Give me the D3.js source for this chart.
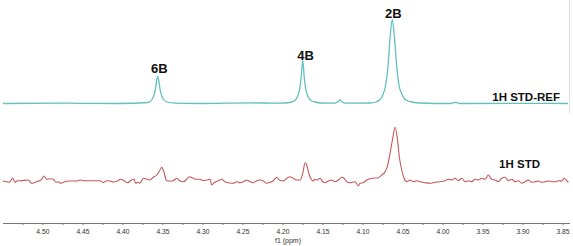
<!DOCTYPE html>
<html>
<head>
<meta charset="utf-8">
<script src="https://cdn.jsdelivr.net/npm/d3@7"></script>
<style>
  body { margin: 0; background: #fff; }
  svg { display: block; }
</style>
</head>
<body>
<div id="chart-area"></div>
<script>
const WIDTH = 573
const HEIGHT = 246

// 1H STD-REF trace (ppm, intensity)
const refPpm = [4.5493, 4.4781, 4.4031, 4.3681, 4.3631, 4.3594, 4.3560, 4.3525, 4.3487, 4.3443, 4.3344,
  4.3031, 4.2406, 4.2031, 4.1906, 4.1856, 4.1818, 4.1787, 4.1768, 4.1747, 4.1727, 4.1706, 4.1675,
  4.1643, 4.1594, 4.1506, 4.1343, 4.1306, 4.1281, 4.1256, 4.1206, 4.0906, 4.0831, 4.0781, 4.0744,
  4.0712, 4.0681, 4.0656, 4.0627, 4.0600, 4.0572, 4.0543, 4.0510, 4.0481, 4.0443, 4.0381, 4.0281,
  3.9906, 3.9831, 3.9781, 3.9031, 3.8431]
const refInt = [0, 0.3, 0, 1, 4, 12, 27, 12, 4, 1.5, 0.3,
  0, 0.7, 0.3, 1, 2.5, 6, 14, 25, 43, 25, 13, 6,
  3, 1.5, 0.5, 0.3, 2, 3.5, 1.5, 0.3, 0.5, 1.5, 4, 9,
  18, 37, 65, 84, 65, 37, 18, 10, 5, 3, 1.5, 0.5,
  0, 1.2, 0, 0.2, 0]

// 1H STD trace (ppm, intensity)
const stdPpm = [4.5497, 4.5447, 4.5415, 4.5372, 4.5343, 4.5315, 4.5281, 4.5177, 4.5135, 4.5093,
  4.5040, 4.5010, 4.4981, 4.4947, 4.4906, 4.4865, 4.4831, 4.4802, 4.4772, 4.4740,
  4.4677, 4.4572, 4.4531, 4.4490, 4.4281, 4.4240, 4.4197, 4.4156, 4.4115, 4.4065,
  4.4022, 4.3981, 4.3940, 4.3885, 4.3856, 4.3835, 4.3802, 4.3781, 4.3740, 4.3697,
  4.3656, 4.3615, 4.3572, 4.3531, 4.3510, 4.3490, 4.3447, 4.3406, 4.3365, 4.3322,
  4.3281, 4.3240, 4.3197, 4.3165, 4.3115, 4.3072, 4.3031, 4.2990, 4.2947, 4.2906,
  4.2885, 4.2856, 4.2802, 4.2760, 4.2719, 4.2677, 4.2615, 4.2572, 4.2531, 4.2490,
  4.2447, 4.2406, 4.2365, 4.2322, 4.2281, 4.2240, 4.2197, 4.2156, 4.2115, 4.2072,
  4.2040, 4.1990, 4.1947, 4.1906, 4.1865, 4.1822, 4.1781, 4.1747, 4.1718, 4.1697,
  4.1665, 4.1635, 4.1615, 4.1594, 4.1565, 4.1531, 4.1497, 4.1468, 4.1427, 4.1385,
  4.1343, 4.1302, 4.1260, 4.1231, 4.1197, 4.1156, 4.1093, 4.1052, 4.1031, 4.0990,
  4.0947, 4.0885, 4.0802, 4.0760, 4.0718, 4.0690, 4.0656, 4.0622, 4.0593, 4.0565,
  4.0540, 4.0510, 4.0481, 4.0447, 4.0406, 4.0365, 4.0322, 4.0281, 4.0218, 4.0156,
  4.0093, 4.0031, 3.9968, 3.9927, 3.9885, 3.9843, 3.9802, 3.9760, 3.9718, 3.9677,
  3.9635, 3.9593, 3.9552, 3.9510, 3.9468, 3.9427, 3.9385, 3.9343, 3.9302, 3.9260,
  3.9218, 3.9177, 3.9135, 3.9093, 3.9052, 3.9010, 3.8968, 3.8927, 3.8885, 3.8843,
  3.8802, 3.8760, 3.8718, 3.8677, 3.8635, 3.8593, 3.8552, 3.8510, 3.8481, 3.8447, 3.8427]
const stdInt = [0, -0.7, -1.3, 2.7, -1.3, 0.3, 0.3, 1, -2.3, -1.3,
  0.3, 1.7, 5, 1.7, 2.3, 1.7, -1.3, -0.7, -2.3, -1.3,
  0, 0, 1, 0.3, 0.3, -1.7, 0.3, 0, -1, 0,
  1.7, 0.3, -1.7, 1, 2, -2.3, -1.3, -2.3, 2.7, 1.7,
  1, 3.7, 6, 11, 13.7, 11, 0.3, 0, 0.3, 2.7,
  0, -0.7, 1.7, 4.3, 2.7, 1.7, 1.7, 0.3, 1, 1.7,
  -4, -1.7, 0.3, 1.7, -0.7, -1.7, -2.3, -0.7, -1.7, -0.7,
  1, -0.7, -1.7, 0.3, 1, 0, -2.3, -1.3, 0.3, 3.7,
  1, 0, 2.7, 4.3, 2.7, 1, 1, 7.7, 18.3, 16,
  6, 1, 0, 1.7, 1, 2.7, -0.7, -1.7, 0, 1,
  -0.7, 1, 3.7, 2.7, -0.7, -1.7, -0.7, -5, -2.3, -1.7,
  1, 2.7, 3.3, 6, 9.3, 14.3, 27.7, 42.7, 53.7, 42.7,
  24.3, 11, 2.7, -0.7, 1, -0.7, 0.3, -0.7, -1.7, -2.3,
  -1.3, -0.7, 0.3, 1.7, 1, 2.7, 0.3, 2.7, -0.7, 0.3,
  -0.7, 1.7, 1, 2.7, 1.7, 6, 1.7, 1, -0.7, 2.7,
  3.7, 0.3, 1.7, -0.7, 0.3, -2.3, -0.7, 1, -1.3, -0.7,
  0, -1.3, -0.7, 0, -0.7, -0.7, 0.3, 0, 2.7, 0.3, -1.3]

// peak labels
const peakNames = ["6B", "4B", "2B"]
const peakPpm = [4.3540, 4.1712, 4.0615]
const peakInt = [30.5, 43.5, 85.2]

const traceNames = ["1H STD-REF", "1H STD"]
const tickValues = [4.50, 4.45, 4.40, 4.35, 4.30, 4.25, 4.20, 4.15, 4.10, 4.05, 4.00, 3.95, 3.90, 3.85]

const svg = d3.select("#chart-area").append("svg")
  .attr("width", WIDTH)
  .attr("height", HEIGHT)

// Scales
const x = d3.scaleLinear()
  .domain([4.5531, 3.8369])
  .range([0, WIDTH])
const yRef = d3.scaleLinear()
  .domain([0, 100])
  .range([103.5, 3.5])
const yStd = d3.scaleLinear()
  .domain([0, 100])
  .range([181, 81])

const refData = refPpm.map((p, i) => ({ ppm: p, v: refInt[i] }))
const stdData = stdPpm.map((p, i) => ({ ppm: p, v: stdInt[i] }))

// right border line
svg.append("line")
  .attr("x1", 569.5).attr("x2", 569.5)
  .attr("y1", 0).attr("y2", 113)
  .attr("stroke", "#dcdcdc")
  .attr("stroke-width", 1)

const refLine = d3.line()
  .x(d => x(d.ppm))
  .y(d => yRef(d.v))
  .curve(d3.curveMonotoneX)
const stdLine = d3.line()
  .x(d => x(d.ppm))
  .y(d => yStd(d.v))
  .curve(d3.curveMonotoneX)

svg.append("path")
  .datum(refData)
  .attr("d", refLine)
  .attr("fill", "none")
  .attr("stroke", "#62c0be")
  .attr("stroke-width", 1.3)

svg.append("path")
  .datum(stdData)
  .attr("d", stdLine)
  .attr("fill", "none")
  .attr("stroke", "#c4585b")
  .attr("stroke-width", 1.1)

// peak labels
peakNames.forEach((name, i) => {
  svg.append("text")
    .attr("x", x(peakPpm[i]))
    .attr("y", yRef(peakInt[i]))
    .attr("text-anchor", "middle")
    .attr("font-family", "Liberation Sans, Arial, sans-serif")
    .attr("font-weight", "bold")
    .attr("font-size", "13px")
    .attr("fill", "#111")
    .text(name)
})

// trace names
svg.append("text")
  .attr("x", 560)
  .attr("y", 101)
  .attr("text-anchor", "end")
  .attr("font-family", "Liberation Sans, Arial, sans-serif")
  .attr("font-weight", "bold")
  .attr("font-size", "11.5px")
  .attr("fill", "#111")
  .text(traceNames[0])
svg.append("text")
  .attr("x", 540)
  .attr("y", 167.5)
  .attr("text-anchor", "end")
  .attr("font-family", "Liberation Sans, Arial, sans-serif")
  .attr("font-weight", "bold")
  .attr("font-size", "11.5px")
  .attr("fill", "#111")
  .text(traceNames[1])

// X Axis
const xAxisCall = d3.axisBottom(x)
  .tickValues(d3.range(4.525, 3.84, -0.025))
  .tickSize(2)
  .tickFormat("")
const xAxis = svg.append("g")
  .attr("class", "x axis")
  .attr("transform", "translate(0, 223)")
  .call(xAxisCall)
xAxis.select(".domain").attr("d", "M3,0.5H570").attr("stroke", "#777")
xAxis.selectAll(".tick line").attr("stroke", "#777")

const labelAxisCall = d3.axisBottom(x)
  .tickValues(tickValues)
  .tickSize(0)
  .tickPadding(6)
  .tickFormat(d3.format(".2f"))
const labelAxis = svg.append("g")
  .attr("transform", "translate(0, 223)")
  .call(labelAxisCall)
labelAxis.select(".domain").remove()
labelAxis.selectAll("text")
  .attr("font-family", "Liberation Sans, Arial, sans-serif")
  .attr("font-size", "6.8px")
  .attr("fill", "#333")

svg.append("text")
  .attr("x", 288)
  .attr("y", 243)
  .attr("text-anchor", "middle")
  .attr("font-family", "Liberation Sans, Arial, sans-serif")
  .attr("font-size", "7px")
  .attr("fill", "#333")
  .text("f1 (ppm)")
</script>
</body>
</html>
